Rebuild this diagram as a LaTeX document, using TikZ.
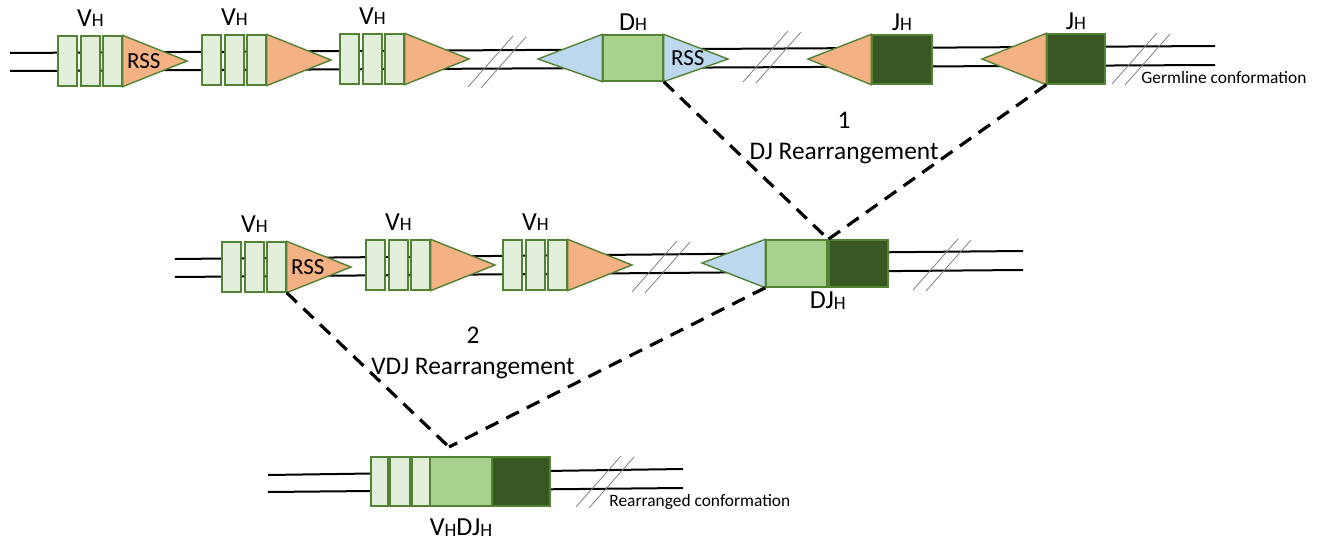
\documentclass[tikz,border=0pt]{standalone}
\usepackage{fontspec}
\setmainfont{Carlito}
\usepackage{tikz}
\usetikzlibrary{positioning}

\definecolor{segline}{HTML}{548235}
\definecolor{vfill}{HTML}{E2EFDA}
\definecolor{dfill}{HTML}{A9D18E}
\definecolor{jfill}{HTML}{385723}
\definecolor{rssv}{HTML}{F4B183}
\definecolor{rssd}{HTML}{BDD7EE}

\newcommand{\subH}{\raisebox{-0.4pt}{\fontsize{9.5}{10}\selectfont H}}

\tikzset{
  seg/.style={draw=segline, line width=0.7pt, inner sep=0pt, minimum height=25pt},
  vseg/.style={seg, fill=vfill, minimum width=9.5pt},
  dseg/.style={seg, fill=dfill, minimum width=30pt},
  jseg/.style={seg, fill=jfill, minimum width=30pt},
  rss/.style={draw=segline, line width=0.7pt},
  dna/.style={line width=1pt},
  cut/.style={gray, line width=0.4pt},
  rejoin/.style={line width=1.6pt, dash pattern=on 7pt off 4.5pt},
  lbl/.style={font=\fontsize{11.5}{13}\selectfont, inner sep=0pt},
  gene/.style={font=\fontsize{13}{15}\selectfont, inner sep=0pt},
  note/.style={font=\fontsize{12.7}{15}\selectfont, inner sep=0pt},
  tag/.style={font=\fontsize{8.7}{10}\selectfont, inner sep=0pt, anchor=west}
}

\begin{document}
\begin{tikzpicture}[x=0.5pt, y=-0.5pt]
  \useasboundingbox (0,0) rectangle (1324,540);

  % strands
  \foreach \xa/\ya/\xb/\yb in {
    % germline
    10/53/1215/46,
    10/71/1215/65,
    % DJ
    175/259/1023/251,
    175/277/1023/270,
    % VDJ
    268/475/683/469,
    268/492/683/488%
  } { \draw[dna] (\xa,\ya) -- (\xb,\yb); }

  % breaks
  \foreach \x/\y in {468/87, 743/82, 1112/84, 632/292, 913/290, 576/507} {
    \draw[cut] (\x,\y) -- ++(45,-51);
    \draw[cut] (\x+13,\y+1) -- ++(45,-51);
  }

  % V segments
  \foreach \g/\l/\y in {
    % germline
    t1/58/61,
    t2/202/60,
    t3/340/59,
    % DJ
    m1/222/267,
    m2/366/265,
    m3/503/265%
  } {
    \node[vseg] (\g-1) at (\l+9.5,\y) {};
    \node[vseg] (\g-2) at (\l+32.5,\y) {};
    \node[vseg] (\g-3) at (\l+54.5,\y) {};
    \draw[rss, fill=rssv] (\g-3.north east) -- (\l+129,\y) -- (\g-3.south east) -- cycle;
    \node[gene, above=4pt of \g-2] (\g-lbl) {V\subH};
  }
  \node[lbl, right=2pt of t1-3] (t1-rss) {RSS};
  \node[lbl, right=2pt of m1-3] (m1-rss) {RSS};

  % D and J, germline
  \node[dseg, minimum height=23pt] (dh) at (633,58) {};
  \draw[rss, fill=rssd] (dh.north west) -- (538,59) -- (dh.south west) -- cycle;
  \draw[rss, fill=rssd] (dh.north east) -- (728,59) -- (dh.south east) -- cycle;
  \node[lbl, right=3.5pt of dh] (dh-rss) {RSS};
  \node[gene, above=1.5pt of dh] (dh-lbl) {D\subH};

  \node[jseg, minimum height=24.5pt] (jh1) at (902,59.5) {};
  \draw[rss, fill=rssv] (jh1.north west) -- (808,59) -- (jh1.south west) -- cycle;
  \node[gene, above=1.5pt of jh1] (jh1-lbl) {J\subH};

  \node[jseg, minimum width=29pt] (jh2) at (1076,59) {};
  \draw[rss, fill=rssv] (jh2.north west) -- (982,59) -- (jh2.south west) -- cycle;
  \node[gene, above=1.5pt of jh2] (jh2-lbl) {J\subH};
  \node[tag] (germ) at (1141,78) {Germline conformation};

  % DJ joined
  \node[dseg, minimum width=30.5pt, minimum height=23.5pt] (dl) at (796.5,263.5) {};
  \node[jseg, minimum width=29.5pt, minimum height=23.5pt] (jl) at (858.5,263.5) {};
  \draw[rss, fill=rssd] (dl.north west) -- (702,263) -- (dl.south west) -- cycle;
  \node[gene, below=2pt of dl.south east] (dj-lbl) {DJ\subH};

  % VDJ joined
  \node[vseg, minimum width=8.5pt, minimum height=24.5pt] (b-1) at (379.5,481.5) {};
  \node[vseg, minimum width=10pt, minimum height=24.5pt] (b-2) at (400,481.5) {};
  \node[vseg, minimum width=9pt, minimum height=24.5pt] (b-3) at (421,481.5) {};
  \node[dseg, minimum width=31pt, minimum height=24.5pt] (b-4) at (461,481.5) {};
  \node[jseg, minimum width=29pt, minimum height=24.5pt] (b-5) at (521,481.5) {};
  \node[gene, below=6pt of b-4] (vdj-lbl) {V\subH DJ\subH};
  \node[tag] (rearr) at (609,502) {Rearranged conformation};

  % rearrangements
  \coordinate (meet) at (449,447);
  \draw[rejoin] (dh.south east) -- (jl.north west);
  \draw[rejoin] (jh2.south west) -- (jl.north west);
  \draw[rejoin] (m1-3.south east) -- (meet);
  \draw[rejoin] (dl.south west) -- (meet);

  \node[note] (step1) at (844,120) {1};
  \node[note, below=7pt of step1] (step1-txt) {DJ Rearrangement};
  \node[note] (step2) at (473,335) {2};
  \node[note, below=7pt of step2] (step2-txt) {VDJ Rearrangement};
\end{tikzpicture}
\end{document}
